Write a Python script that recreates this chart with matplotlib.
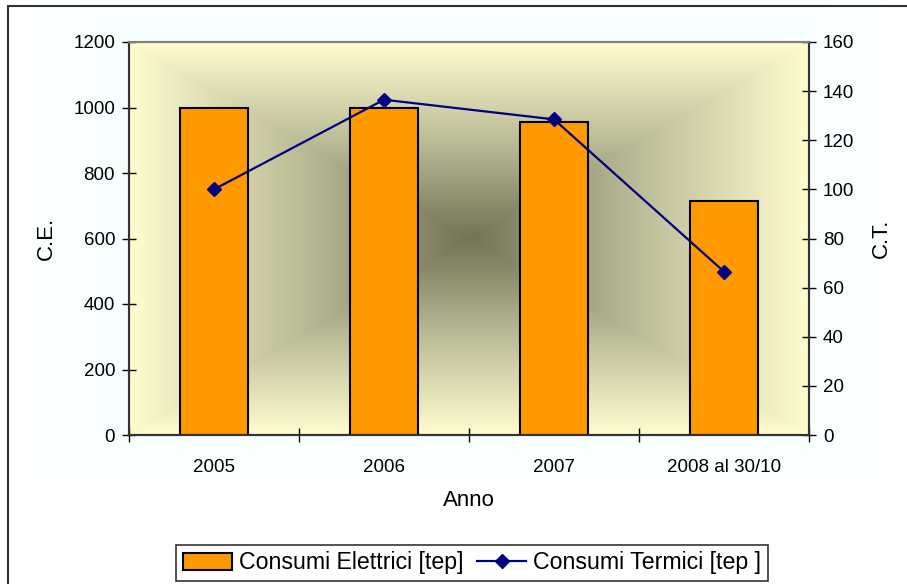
import numpy as np
import matplotlib
matplotlib.use("Agg")
import matplotlib.pyplot as plt
from matplotlib.colors import LinearSegmentedColormap
from matplotlib.patches import Rectangle

plt.rcParams['font.family'] = ['Liberation Sans', 'DejaVu Sans']

anni = ["2005", "2006", "2007", "2008 al 30/10"]
consumi_elettrici = [997, 997, 955, 716]
consumi_termici = [100, 136.5, 128.5, 66.5]

fig = plt.figure(figsize=(9.07, 5.84), dpi=100)

# soft background for the whole chart area
bg = fig.add_axes([0, 0, 1, 1], zorder=-10)
bg.set_axis_off()
gx, gy = np.meshgrid(np.linspace(-1, 1, 400), np.linspace(-1, 1, 300))
g = 1 - np.maximum(np.abs(gx), np.abs(gy * 1.1 + 0.25))
g = np.clip(g, 0, 1)
cmap_bg = LinearSegmentedColormap.from_list("bg", ["#ffffff", "#e2ffff"])
bg.imshow(g, cmap=cmap_bg, extent=[0, 1, 0, 1], aspect="auto", origin="upper",
          vmin=0, vmax=1)
bg.set_xlim(0, 1)
bg.set_ylim(0, 1)
bg.add_patch(Rectangle((8 / 907, -0.05), 1.1, 1 - 6 / 584 + 0.05, fill=False,
                       edgecolor="#333333", linewidth=1.5))

ax = fig.add_axes([129 / 907, 1 - 435 / 584, 680 / 907, 393 / 584])
ax.patch.set_visible(False)

# plot-area fill: dark olive centre fading to pale yellow at the edges
px, py = np.meshgrid(np.linspace(-1, 1, 500), np.linspace(-1, 1, 400))
t = np.maximum(np.abs(px), np.abs(py))
cmap_pa = LinearSegmentedColormap.from_list("pa", ["#737357", "#bcbc98", "#fffcce"])
ax.imshow(t, cmap=cmap_pa, extent=[0, 1, 0, 1], transform=ax.transAxes,
          aspect="auto", zorder=0, vmin=0, vmax=1)

x = np.arange(len(anni))
ax.bar(x, consumi_elettrici, width=0.4, color="#ff9900", edgecolor="black",
       linewidth=1.5, zorder=2, label="Consumi Elettrici [tep]")
ax.set_xlim(-0.5, len(anni) - 0.5)
ax.set_ylim(0, 1200)
ax.set_yticks(range(0, 1201, 200))
ax.set_xticks(x)
ax.set_xticklabels(anni)
ax.set_xticks(np.arange(-0.5, len(anni), 1), minor=True)
ax.tick_params(axis="x", which="major", length=0, pad=17, labelsize=13.5)
ax.tick_params(axis="x", which="minor", direction="inout", length=10, width=1)
ax.tick_params(axis="y", direction="inout", length=10, width=1, labelsize=13.5, pad=5)
ax.set_ylabel("C.E.", fontsize=16, labelpad=12)
ax.set_xlabel("Anno", fontsize=16, labelpad=10)

ax2 = ax.twinx()
ax2.plot(x, consumi_termici, color="#000080", linewidth=1.6, marker="D",
         markersize=7, zorder=3, label="Consumi Termici [tep ]")
ax2.set_ylim(0, 160)
ax2.set_yticks(range(0, 161, 20))
ax2.tick_params(axis="y", direction="inout", length=10, width=1, labelsize=13.5, pad=5)
ax2.set_ylabel("C.T.", fontsize=16, labelpad=12)

for a in (ax, ax2):
    a.spines["top"].set_color("#808080")
    a.spines["top"].set_linewidth(1.5)
    for s in ("left", "right", "bottom"):
        a.spines[s].set_color("#333333")
        a.spines[s].set_linewidth(1.5)

h1, l1 = ax.get_legend_handles_labels()
h2, l2 = ax2.get_legend_handles_labels()
leg = fig.legend(h1 + h2, l1 + l2, loc="center", ncol=2,
                 bbox_to_anchor=(472 / 907, 1 - 563 / 584), fontsize=16.7,
                 frameon=True, fancybox=False, edgecolor="black",
                 handlelength=2.1, handletextpad=0.3, columnspacing=0.6,
                 borderpad=0.3)
leg.get_frame().set_linewidth(1.2)
leg.get_frame().set_facecolor("white")

fig.savefig("out.png", dpi=100)
